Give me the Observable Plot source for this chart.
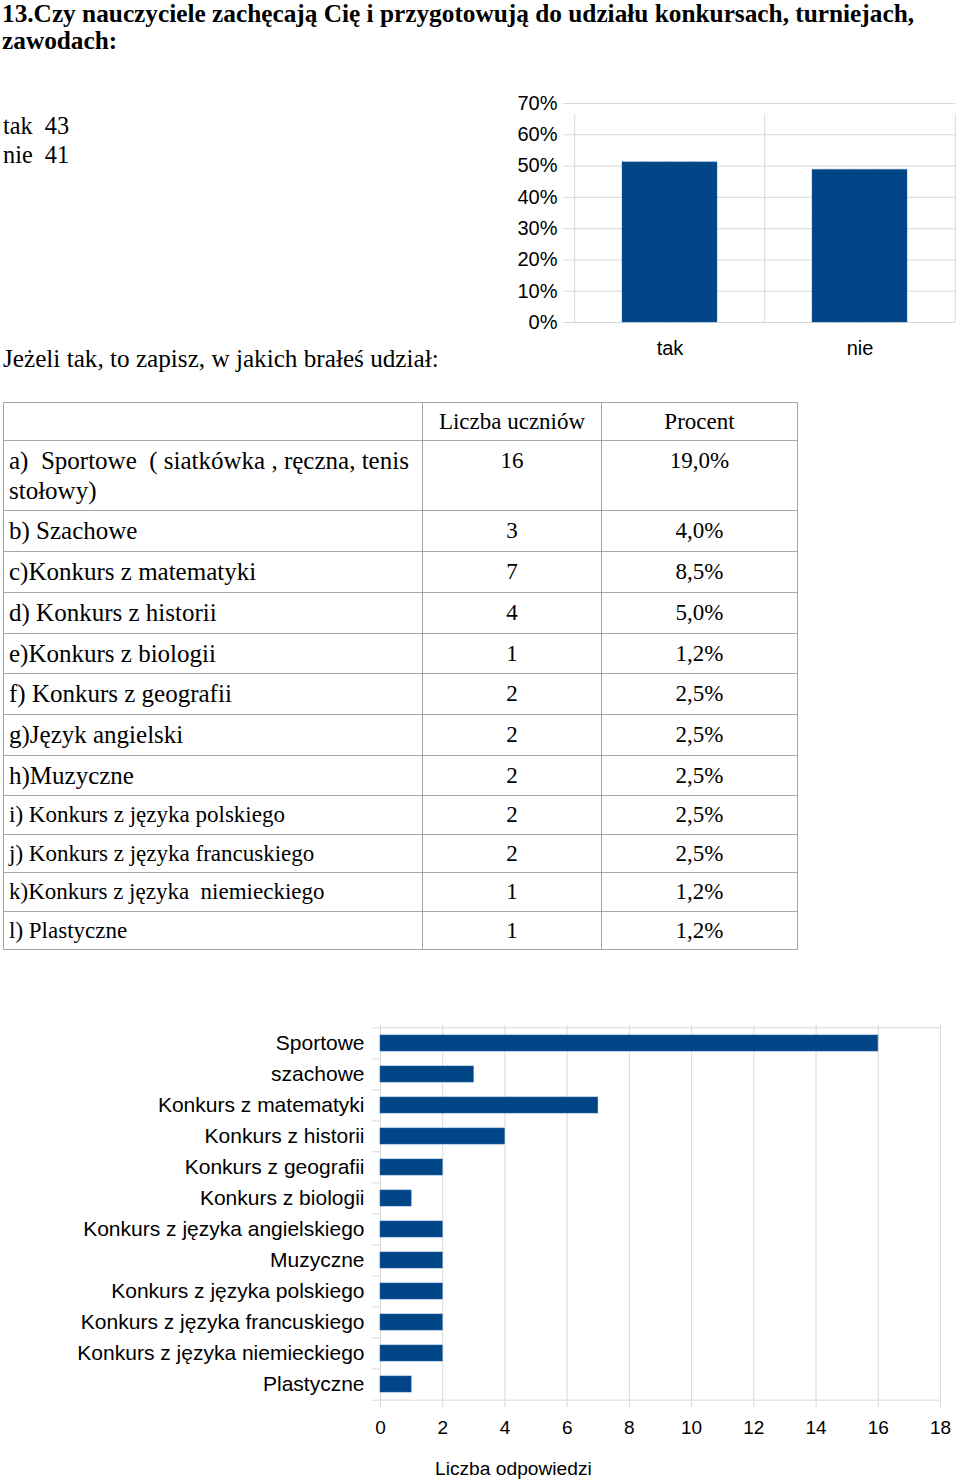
<!DOCTYPE html>
<html>
<head>
<meta charset="utf-8">
<script src="https://cdn.jsdelivr.net/npm/d3@7"></script>
<script src="https://cdn.jsdelivr.net/npm/@observablehq/plot@0.6"></script>
<style>
  html, body { margin: 0; padding: 0; background: #fff; }
  #page { position: relative; width: 960px; height: 1483px; overflow: hidden; background: #fff; color: #000; }
  .serif { font-family: "Liberation Serif", "Times New Roman", serif; }
  #title { position: absolute; left: 2px; top: 0px; width: 940px; font-size: 25.3px; font-weight: bold; line-height: 26.5px; }
  #counts { position: absolute; left: 3px; top: 111px; font-size: 24.3px; line-height: 29px; white-space: pre; }
  #question { position: absolute; left: 3px; top: 345px; font-size: 25.2px; white-space: pre; }
  #tableWrap { position: absolute; left: 3px; top: 402px; }
  table { border-collapse: collapse; font-family: "Liberation Serif", "Times New Roman", serif; font-size: 23px; }
  td { border: 1px solid #a6a6a6; padding: 5px; vertical-align: top; white-space: pre-wrap; line-height: 27.5px; }
  tr:first-child td { line-height: 27px; }
  tr:nth-child(n+2):nth-child(-n+9) td { line-height: 29.7px; }
  tr:nth-child(n+2):nth-child(-n+9) td.c1 { font-size: 25px; }
  td.c1 { width: 408px; text-align: left; }
  td.c2 { width: 168px; text-align: center; }
  td.c3 { width: 185px; text-align: center; }
  #chart1 { position: absolute; left: 500px; top: 85px; }
  #chart2 { position: absolute; left: 0px; top: 999px; }
  #xlabel { position: absolute; left: 435px; top: 1458px; font-family: "Liberation Sans", Arial, sans-serif; font-size: 19.2px; }
</style>
</head>
<body>
<div id="page">
  <div id="title" class="serif"></div>
  <div id="counts" class="serif"></div>
  <div id="question" class="serif"></div>
  <div id="chart1"></div>
  <div id="tableWrap"></div>
  <div id="chart2"></div>
  <div id="xlabel"></div>
</div>
<script>
// ---------- data ----------
const titleText = "13.Czy nauczyciele zachęcają Cię i przygotowują do udziału konkursach, turniejach, zawodach:";
const answers = ["tak", "nie"];
const answerCounts = [43, 41];
const answerPercent = [51.2, 48.8];
const percentTicks = [0, 10, 20, 30, 40, 50, 60, 70];
const questionText = "Jeżeli tak, to zapisz, w jakich brałeś udział:";

const tableHeader = ["", "Liczba uczniów", "Procent"];
const tableLabels = [
  "a)  Sportowe  ( siatkówka , ręczna, tenis stołowy)",
  "b) Szachowe",
  "c)Konkurs z matematyki",
  "d) Konkurs z historii",
  "e)Konkurs z biologii",
  "f) Konkurs z geografii",
  "g)Język angielski",
  "h)Muzyczne",
  "i) Konkurs z języka polskiego",
  "j) Konkurs z języka francuskiego",
  "k)Konkurs z języka  niemieckiego",
  "l) Plastyczne"
];
const tableCounts = ["16", "3", "7", "4", "1", "2", "2", "2", "2", "2", "1", "1"];
const tablePercents = ["19,0%", "4,0%", "8,5%", "5,0%", "1,2%", "2,5%", "2,5%", "2,5%", "2,5%", "2,5%", "1,2%", "1,2%"];

const contestLabels = [
  "Sportowe",
  "szachowe",
  "Konkurs z matematyki",
  "Konkurs z historii",
  "Konkurs z geografii",
  "Konkurs z biologii",
  "Konkurs z języka angielskiego",
  "Muzyczne",
  "Konkurs z języka polskiego",
  "Konkurs z języka francuskiego",
  "Konkurs z języka niemieckiego",
  "Plastyczne"
];
const contestValues = [16, 3, 7, 4, 2, 1, 2, 2, 2, 2, 2, 1];
const countTicks = [0, 2, 4, 6, 8, 10, 12, 14, 16, 18];
const xAxisTitle = "Liczba odpowiedzi";

// ---------- text ----------
document.getElementById("title").textContent = titleText;
document.getElementById("counts").textContent = answers
  .map((a, i) => `${a}  ${answerCounts[i]}`).join("\n");
document.getElementById("question").textContent = questionText;
document.getElementById("xlabel").textContent = xAxisTitle;

// ---------- table ----------
{
  const table = document.createElement("table");
  const hr = table.insertRow();
  tableHeader.forEach((h, j) => {
    const c = hr.insertCell(); c.className = "c" + (j + 1); c.textContent = h;
  });
  tableLabels.forEach((lab, i) => {
    const r = table.insertRow();
    [lab, tableCounts[i], tablePercents[i]].forEach((v, j) => {
      const c = r.insertCell(); c.className = "c" + (j + 1); c.textContent = v;
    });
  });
  document.getElementById("tableWrap").appendChild(table);
}

const blue = "#004586";
const grid = "#d9d9d9";
const sans = "'Liberation Sans', Arial, Helvetica, sans-serif";

// ---------- chart 1: tak / nie ----------
{
  const W = 460, H = 280, mL = 74, mR = 5, mT = 18, mB = 43;
  const step = (W - mL - mR) / answers.length;
  const data = answers.map((a, i) => ({answer: a, pct: answerPercent[i]}));
  const chart = Plot.plot({
    width: W, height: H, marginLeft: mL, marginRight: mR, marginTop: mT, marginBottom: mB,
    style: {fontFamily: sans, fontSize: "20px", color: "#000", background: "transparent", overflow: "visible"},
    x: {domain: answers, paddingInner: 0.5, paddingOuter: 0.25, axis: null, label: null},
    y: {domain: [0, 70], axis: null, label: null},
    marks: [
      Plot.ruleY(percentTicks, {stroke: grid, strokeWidth: 1, insetLeft: -11}),
      Plot.ruleX(answers, {x: d => d, dx: -step / 2, y1: 0, y2: 70, stroke: grid, insetBottom: -11}),
      Plot.ruleX(answers.slice(-1), {x: d => d, dx: step / 2, y1: 0, y2: 70, stroke: grid, insetBottom: -11}),
      Plot.barY(data, {x: "answer", y: "pct", fill: blue, stroke: "#2a6aa8", strokeWidth: 0.6, strokeDasharray: "2,1"}),
      Plot.axisY({ticks: percentTicks, tickSize: 0, tickPadding: 17, tickFormat: d => d + "%", label: null, fill: "#000"}),
      Plot.axisX({tickSize: 0, tickPadding: 18, label: null, fill: "#000"})
    ]
  });
  document.getElementById("chart1").appendChild(chart);
}

// ---------- chart 2: horizontal bars ----------
{
  const W = 960, H = 484, mL = 380, mR = 20, mT = 26, mB = 82;
  const step = (H - mT - mB) / contestLabels.length;
  const data = contestLabels.map((c, i) => ({label: c, value: contestValues[i]}));
  const chart = Plot.plot({
    width: W, height: H, marginLeft: mL, marginRight: mR, marginTop: mT, marginBottom: mB,
    style: {fontFamily: sans, fontSize: "19px", color: "#000", background: "transparent", overflow: "visible"},
    x: {domain: [0, 18], axis: null, label: null},
    y: {domain: contestLabels, paddingInner: 0.5, paddingOuter: 0.25, axis: null, label: null},
    marks: [
      Plot.ruleX(countTicks, {stroke: grid, insetBottom: -6}),
      Plot.ruleY(contestLabels.slice(0, 1), {y: d => d, dy: -step / 2, x1: 0, x2: 18, stroke: grid}),
      Plot.ruleY(contestLabels.slice(-1), {y: d => d, dy: step / 2, x1: 0, x2: 18, stroke: grid}),
      Plot.ruleY(contestLabels, {y: d => d, dy: -step / 2, x1: 0, x2: 0, insetLeft: -8, stroke: grid}),
      Plot.ruleY(contestLabels.slice(-1), {y: d => d, dy: step / 2, x1: 0, x2: 0, insetLeft: -8, stroke: grid}),
      Plot.barX(data, {x: "value", y: "label", fill: blue, stroke: "#2a6aa8", strokeWidth: 0.6}),
      Plot.axisY({tickSize: 0, tickPadding: 16, label: null, fill: "#000", fontSize: 21}),
      Plot.axisX({ticks: countTicks, tickSize: 0, tickPadding: 19, label: null, fill: "#000"})
    ]
  });
  document.getElementById("chart2").appendChild(chart);
}
</script>
</body>
</html>
